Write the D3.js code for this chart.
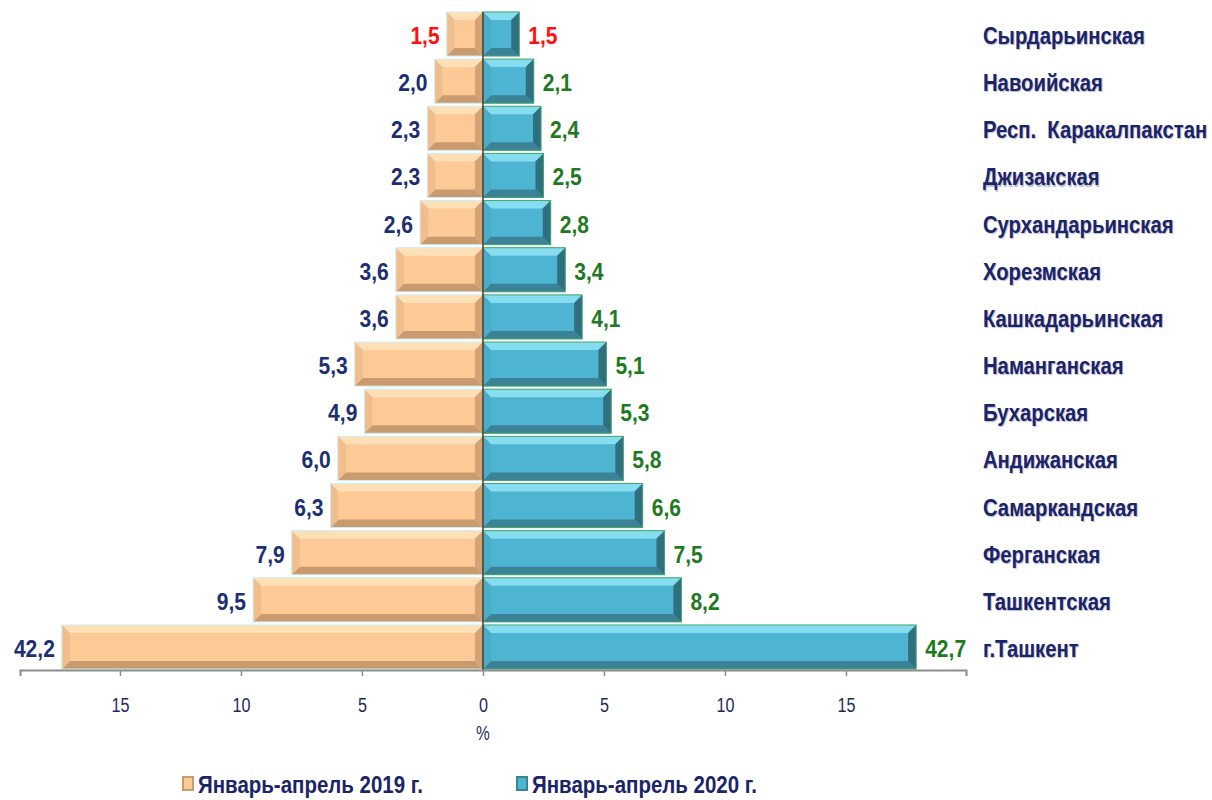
<!DOCTYPE html>
<html>
<head>
<meta charset="utf-8">
<script src="https://cdn.jsdelivr.net/npm/d3@7"></script>
<style>
  body { margin: 0; background: #fff; }
  svg { display: block; }
  text { font-family: "Liberation Sans", Arial, sans-serif; }
</style>
</head>
<body>
<div id="chart"></div>
<script>
// regions, top to bottom
var regions = ["Сырдарьинская", "Навоийская", "Респ.  Каракалпакстан", "Джизакская",
  "Сурхандарьинская", "Хорезмская", "Кашкадарьинская", "Наманганская", "Бухарская",
  "Андижанская", "Самаркандская", "Ферганская", "Ташкентская", "г.Ташкент"];
var jan2019 = [1.5, 2.0, 2.3, 2.3, 2.6, 3.6, 3.6, 5.3, 4.9, 6.0, 6.3, 7.9, 9.5, 42.2];
var jan2020 = [1.5, 2.1, 2.4, 2.5, 2.8, 3.4, 4.1, 5.1, 5.3, 5.8, 6.6, 7.5, 8.2, 42.7];
// the chart cuts the long Tashkent bars
var cut2019 = 17.4, cut2020 = 17.9;
var tickVals = [-15, -10, -5, 0, 5, 10, 15];
var seriesNames = ["Январь-апрель 2019 г.", "Январь-апрель 2020 г."];

var width = 1212, height = 800;
var svg = d3.select("#chart").append("svg").attr("width", width).attr("height", height);

var x = d3.scaleLinear().domain([-19.13, 19.96]).range([20, 966]);
var y = d3.scaleBand().domain(regions).range([11, 670]).paddingInner(0.065).paddingOuter(0.02);

var fmt = function (v) { return d3.format(".1f")(v).replace(".", ","); };

// the original uses a narrow font: squeeze text horizontally to match
function squeeze(sample, size, weight, target) {
  var t = svg.append("text").attr("font-size", size).attr("font-weight", weight).text(sample);
  var w = t.node().getComputedTextLength();
  t.remove();
  return target / w;
}
var fCat = squeeze("Сырдарьинская", 23, "bold", 162);
var fVal = squeeze("42,2", 24, "bold", 41);
var fLeg = squeeze("Январь-апрель 2019 г.", 23, "bold", 225);
var fTick = squeeze("15", 21, "normal", 18);

function place(sel, fx, fy, f) {
  sel.attr("transform", function (d, i) { return "translate(" + fx(d, i) + "," + fy(d, i) + ") scale(" + f + ",1)"; });
}

// bevelled bar: base + four edge facets
function bevelBar(g, x0, y0, w, h, c, outerLeft) {
  var b = Math.min(8, w / 2);
  g.append("rect").attr("x", x0).attr("y", y0).attr("width", w).attr("height", h).attr("fill", c.base);
  var x1 = x0 + w, y1 = y0 + h;
  g.append("polygon").attr("fill", c.top)
    .attr("points", [[x0, y0], [x1, y0], [x1 - b, y0 + b], [x0 + b, y0 + b]].join(" "));
  g.append("polygon").attr("fill", c.bottom)
    .attr("points", [[x0, y1], [x1, y1], [x1 - b, y1 - b], [x0 + b, y1 - b]].join(" "));
  g.append("polygon").attr("fill", outerLeft ? c.outer : c.inner)
    .attr("points", [[x0, y0], [x0 + b, y0 + b], [x0 + b, y1 - b], [x0, y1]].join(" "));
  g.append("polygon").attr("fill", outerLeft ? c.inner : c.outer)
    .attr("points", [[x1, y0], [x1 - b, y0 + b], [x1 - b, y1 - b], [x1, y1]].join(" "));
  g.append("rect").attr("x", x0).attr("y", y0).attr("width", w).attr("height", h)
    .attr("fill", "none").attr("stroke", c.stroke).attr("stroke-width", 1);
}

var peach = { base: "#FDC996", top: "#FFE0B6", bottom: "#C99A6E", outer: "#F0BE8E", inner: "#D4A274", stroke: "#CDEFF5" };
var teal = { base: "#4DB5D2", top: "#86DDF0", bottom: "#3B8296", outer: "#2F6F80", inner: "#4AADC8", stroke: "#3FA86A" };

var bars = svg.append("g");
regions.forEach(function (r, i) {
  var v1 = Math.min(jan2019[i], cut2019), v2 = Math.min(jan2020[i], cut2020);
  var yy = y(r), h = y.bandwidth();
  bevelBar(bars, x(-v1), yy, x(0) - x(-v1), h, peach, true);
  bevelBar(bars, x(0), yy, x(v2) - x(0), h, teal, false);
});

// zero line
svg.append("line").attr("x1", x(0)).attr("x2", x(0)).attr("y1", y(regions[0])).attr("y2", 670)
  .attr("stroke", "#5A3A28").attr("stroke-width", 1.5);

var midY = function (d) { return y(d) + y.bandwidth() / 2 + 10; };

// value labels
var lab19 = svg.append("g").selectAll("text").data(regions).enter().append("text")
  .attr("text-anchor", "end")
  .attr("font-size", 24).attr("font-weight", "bold")
  .attr("fill", function (d, i) { return i === 0 ? "#FF1010" : "#1B2F72"; })
  .text(function (d, i) { return fmt(jan2019[i]); });
place(lab19, function (d, i) { return x(-Math.min(jan2019[i], cut2019)) - 7; }, midY, fVal);

var lab20 = svg.append("g").selectAll("text").data(regions).enter().append("text")
  .attr("font-size", 24).attr("font-weight", "bold")
  .attr("fill", function (d, i) { return i === 0 ? "#FF1010" : "#1F7A1F"; })
  .text(function (d, i) { return fmt(jan2020[i]); });
place(lab20, function (d, i) { return x(Math.min(jan2020[i], cut2020)) + 9; }, midY, fVal);

// region names
var names = svg.append("g").selectAll("text").data(regions).enter().append("text")
  .attr("font-size", 23).attr("font-weight", "bold")
  .attr("fill", "#1A2468")
  .style("text-shadow", "1px 1px 1px rgba(120,120,160,0.5)")
  .style("white-space", "pre")
  .text(function (d) { return d; });
place(names, function () { return 983; }, midY, fCat);

// x axis
var axis = svg.append("g").attr("transform", "translate(0,670)")
  .call(d3.axisBottom(x).tickValues(tickVals).tickSize(6).tickPadding(14)
    .tickFormat(function (d) { return Math.abs(d); }));
axis.select(".domain").attr("stroke", "#8C8C8C").attr("stroke-width", 2);
axis.selectAll(".tick line").attr("stroke", "#8C8C8C").attr("stroke-width", 1.5);
axis.selectAll(".tick text").attr("font-size", 21).attr("fill", "#1F2A5C")
  .attr("font-family", "Liberation Sans, Arial, sans-serif")
  .attr("y", 0).attr("dy", 0)
  .attr("transform", "translate(0,42) scale(" + fTick + ",1)");

svg.append("text").attr("x", 0).attr("y", 0).attr("text-anchor", "middle")
  .attr("font-size", 20).attr("fill", "#1F2A5C")
  .attr("transform", "translate(" + x(0) + ",740) scale(" + fTick + ",1)")
  .text("%");

// legend
var legend = svg.append("g");
[[183, peach], [517, teal]].forEach(function (p, i) {
  var c = p[1];
  legend.append("rect").attr("x", p[0]).attr("y", 777).attr("width", 10).attr("height", 13)
    .attr("fill", c.base).attr("stroke", c.bottom).attr("stroke-width", 2);
  legend.append("text")
    .attr("font-size", 23).attr("font-weight", "bold").attr("fill", "#1A2468")
    .attr("transform", "translate(" + (p[0] + 15) + ",793) scale(" + fLeg + ",1)")
    .text(seriesNames[i]);
});
</script>
</body>
</html>
